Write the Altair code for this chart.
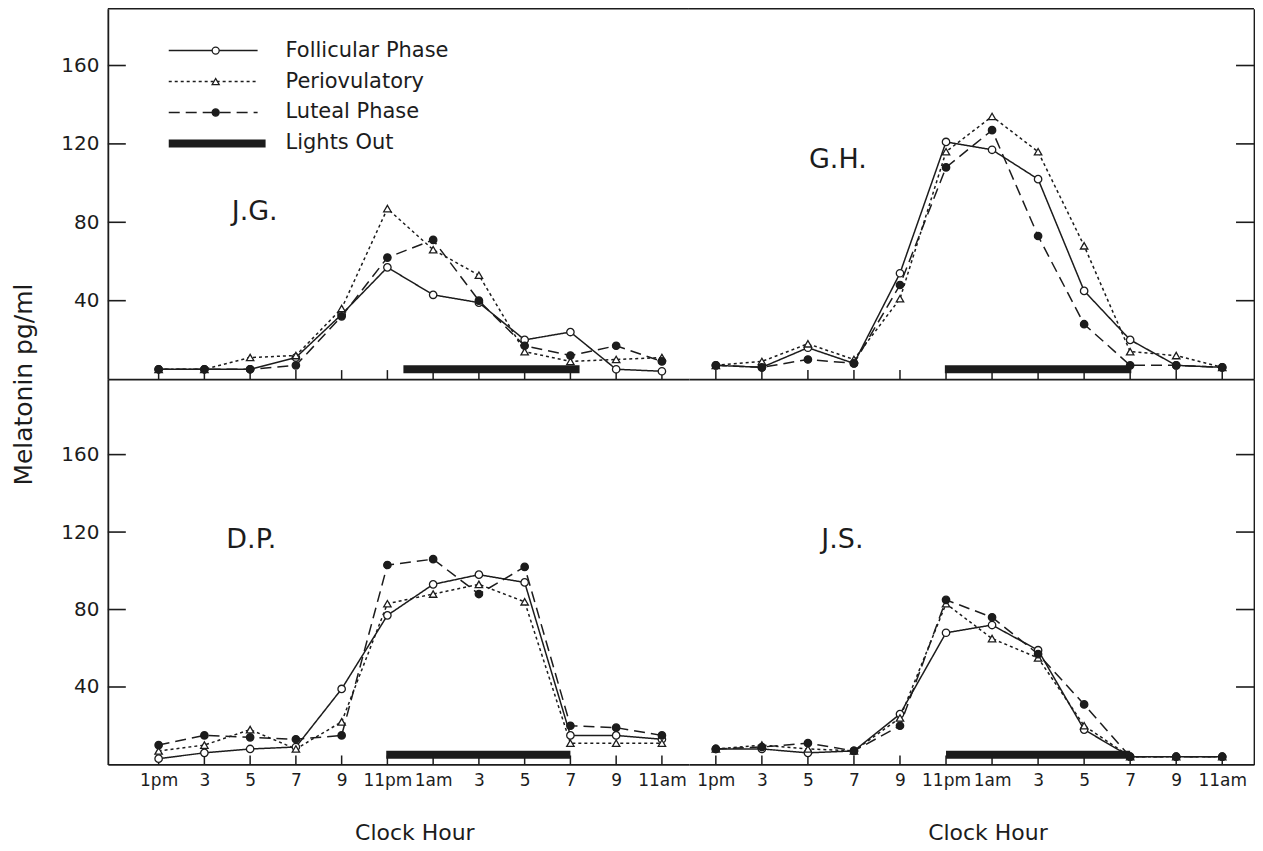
import altair as alt
import pandas as pd

# ---------------- data ----------------
hours = [13, 15, 17, 19, 21, 23, 25, 27, 29, 31, 33, 35]
hour_labels = ["1pm", "3", "5", "7", "9", "11pm", "1am", "3", "5", "7", "9", "11am"]
phases = ["Follicular Phase", "Periovulatory", "Luteal Phase"]
subjects = ["J.G.", "G.H.", "D.P.", "J.S."]
y_ticks = [40, 80, 120, 160]

jg_follicular = [5, 5, 5, 11, 33, 57, 43, 39, 20, 24, 5, 4]
jg_periovulatory = [5, 5, 11, 12, 36, 87, 66, 53, 14, 9, 10, 11]
jg_luteal = [5, 5, 5, 7, 32, 62, 71, 40, 17, 12, 17, 9]

gh_follicular = [7, 6, 16, 8, 54, 121, 117, 102, 45, 20, 7, 6]
gh_periovulatory = [7, 9, 18, 10, 41, 116, 134, 116, 68, 14, 12, 6]
gh_luteal = [7, 6, 10, 8, 48, 108, 127, 73, 28, 7, 7, 6]

dp_follicular = [3, 6, 8, 9, 39, 77, 93, 98, 94, 15, 15, 13]
dp_periovulatory = [7, 10, 18, 8, 22, 83, 88, 93, 84, 11, 11, 11]
dp_luteal = [10, 15, 14, 13, 15, 103, 106, 88, 102, 20, 19, 15]

js_follicular = [8, 8, 6, 7, 26, 68, 72, 59, 18, 4, 4, 4]
js_periovulatory = [8, 10, 8, 7, 24, 83, 65, 55, 20, 4, 4, 4]
js_luteal = [8, 9, 11, 7, 20, 85, 76, 57, 31, 4, 4, 4]

lights_start = [23.7, 22.95, 22.95, 23.0]
lights_end = [31.4, 31.05, 31.0, 31.0]
lights_level = [5, 5, 5, 5]

# subject label anchor (hour, value)
label_hour = [17.2, 18.3, 17.05, 18.5]
label_value = [85, 112, 116, 116]

series = {
    "J.G.": [jg_follicular, jg_periovulatory, jg_luteal],
    "G.H.": [gh_follicular, gh_periovulatory, gh_luteal],
    "D.P.": [dp_follicular, dp_periovulatory, dp_luteal],
    "J.S.": [js_follicular, js_periovulatory, js_luteal],
}

# ---------------- style ----------------
FONT = "DejaVu Sans"
INK = "#1c1c1c"
FRAME_W = 1.8
dash_range = [[1, 0], [3, 3], [11, 6]]
shape_range = ["circle", "triangle-up", "circle"]
fill_range = ["white", "white", INK]

label_expr = "[" + ",".join("'%s'" % s for s in hour_labels) + "][round((datum.value-13)/2)]"


def subject_df(subj):
    rows = []
    for name, vals in zip(phases, series[subj]):
        for h, v in zip(hours, vals):
            rows.append({"subject": subj, "phase": name, "hour": h, "value": v})
    return pd.DataFrame(rows)


one = pd.DataFrame({"k": [0]})


def make_panel(idx, width, height, xdom, ydom, left, bottom, ytitle=False, legend=False):
    subj = subjects[idx]
    df = subject_df(subj)

    xkw = dict(values=hours, ticks=False, domain=True, domainColor=INK,
               domainWidth=FRAME_W, grid=False, labels=bottom)
    if bottom:
        xkw.update(labelExpr=label_expr, labelFont=FONT, labelFontSize=17,
                   labelColor=INK, labelPadding=8, title="Clock Hour",
                   titleFont=FONT, titleFontSize=22, titleFontWeight="normal",
                   titleColor=INK, titlePadding=34, titleX=width / 2 + 16)
    else:
        xkw.update(title=None)
    x_axis = alt.Axis(**xkw)

    ykw = dict(values=y_ticks, ticks=False, domain=True, domainColor=INK,
               domainWidth=FRAME_W, grid=False)
    if left:
        ykw.update(orient="left", labelFont=FONT, labelFontSize=20,
                   labelColor=INK, labelPadding=9)
        if ytitle:
            ykw.update(title="Melatonin pg/ml", titleFont=FONT, titleFontSize=25,
                       titleFontWeight="normal", titleColor=INK, titleAngle=270,
                       titleX=-84, titleY=height + 5, titleAlign="center",
                       titleBaseline="middle")
        else:
            ykw.update(title=None)
    else:
        ykw.update(orient="right", labels=False, title=None)
    y_axis = alt.Axis(**ykw)

    xs = alt.Scale(domain=xdom, nice=False, zero=False)
    ys = alt.Scale(domain=ydom, nice=False, zero=False)

    base = alt.Chart(df)
    lines = base.mark_line(strokeWidth=1.5, color=INK).encode(
        x=alt.X("hour:Q", scale=xs, axis=x_axis),
        y=alt.Y("value:Q", scale=ys, axis=y_axis),
        strokeDash=alt.StrokeDash("phase:N", scale=alt.Scale(domain=phases, range=dash_range), legend=None),
        detail="phase:N",
    )
    points = base.mark_point(filled=True, size=55, stroke=INK, strokeWidth=1.3, opacity=1).encode(
        x="hour:Q",
        y="value:Q",
        shape=alt.Shape("phase:N", scale=alt.Scale(domain=phases, range=shape_range), legend=None),
        fill=alt.Fill("phase:N", scale=alt.Scale(domain=phases, range=fill_range), legend=None),
    )
    lights_df = pd.DataFrame({"start": [lights_start[idx]], "end": [lights_end[idx]],
                              "level": [lights_level[idx]]})
    lights = alt.Chart(lights_df).mark_rule(strokeWidth=8, color=INK, strokeCap="butt").encode(
        x="start:Q", x2="end:Q", y="level:Q")

    xt = alt.Chart(pd.DataFrame({"hour": hours})).mark_rule(color=INK, strokeWidth=1.5).encode(
        x="hour:Q", y=alt.value(height), y2=alt.value(height - 9))
    if left:
        yt = alt.Chart(pd.DataFrame({"value": y_ticks})).mark_rule(color=INK, strokeWidth=1.6).encode(
            y="value:Q", x=alt.value(0), x2=alt.value(18))
    else:
        yt = alt.Chart(pd.DataFrame({"value": y_ticks})).mark_rule(color=INK, strokeWidth=1.6).encode(
            y="value:Q", x=alt.value(width - 18), x2=alt.value(width))

    lab_df = pd.DataFrame({"subject": [subj], "hour": [label_hour[idx]], "value": [label_value[idx]]})
    lab = alt.Chart(lab_df).mark_text(font=FONT, fontSize=27, color=INK).encode(
        x="hour:Q", y="value:Q", text="subject:N")

    layers = [xt, yt, lights, lines, points, lab]

    if not bottom:
        top = alt.Chart(one).mark_rule(color=INK, strokeWidth=FRAME_W).encode(
            x=alt.value(0), x2=alt.value(width), y=alt.value(0))
        layers.append(top)

    if legend:
        for i, name in enumerate(phases):
            ly = 42 + 31 * i
            layers.append(alt.Chart(one).mark_rule(color=INK, strokeWidth=1.5, strokeDash=dash_range[i]).encode(
                x=alt.value(61), x2=alt.value(150), y=alt.value(ly)))
            layers.append(alt.Chart(one).mark_point(shape=shape_range[i], filled=True, fill=fill_range[i],
                                                    stroke=INK, strokeWidth=1.3, size=50, opacity=1).encode(
                x=alt.value(108), y=alt.value(ly)))
            layers.append(alt.Chart(one).mark_text(font=FONT, fontSize=21, color=INK, align="left",
                                                   baseline="middle").encode(
                x=alt.value(178), y=alt.value(ly), text=alt.value(name)))
        ly = 42 + 31 * 3
        layers.append(alt.Chart(one).mark_rule(color=INK, strokeWidth=8, strokeCap="butt").encode(
            x=alt.value(61), x2=alt.value(158), y=alt.value(ly)))
        layers.append(alt.Chart(one).mark_text(font=FONT, fontSize=21, color=INK, align="left",
                                               baseline="middle").encode(
            x=alt.value(178), y=alt.value(ly), text=alt.value("Lights Out")))

    return alt.layer(*layers).properties(width=width, height=height)


WL, WR = 582, 566
HT, HB = 371, 386
XL = [10.78, 36.18]
XR = [11.83, 36.38]
YT = [0, 189]
YB = [0, 199]

tl = make_panel(0, WL, HT, XL, YT, left=True, bottom=False, ytitle=True, legend=True)
tr = make_panel(1, WR, HT, XR, YT, left=False, bottom=False)
bl = make_panel(2, WL, HB, XL, YB, left=True, bottom=True)
br = make_panel(3, WR, HB, XR, YB, left=False, bottom=True)

chart = alt.concat(tl, tr, bl, br, columns=2, spacing=0, bounds="flush", align="each").properties(
    padding={"left": 4, "top": -1, "right": 0, "bottom": 2},
    background="white",
).configure_view(stroke=None)

chart.save("out.html", embed_options={"renderer": "svg", "actions": False})
